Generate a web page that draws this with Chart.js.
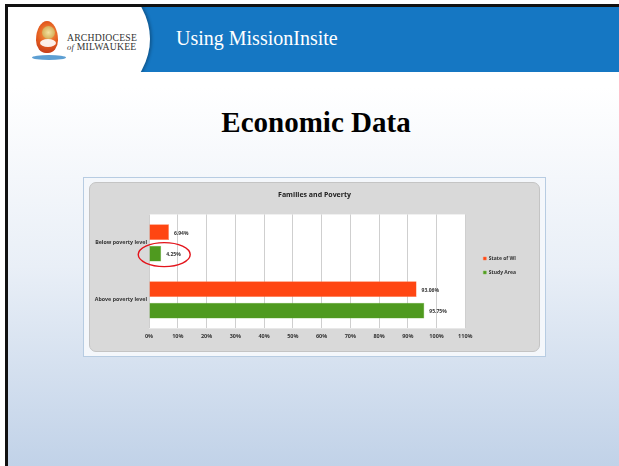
<!DOCTYPE html>
<html>
<head>
<meta charset="utf-8">
<script src="https://cdn.jsdelivr.net/npm/chart.js@4.4.1/dist/chart.umd.min.js"></script>
<style>
  html, body { margin: 0; padding: 0; }
  body { width: 619px; height: 466px; position: relative; overflow: hidden; background: #fff; }
  .frame {
    position: absolute; left: 5px; top: 4px; right: 0; bottom: 0;
    border-top: 3px solid #111; border-left: 3px solid #111;
    background: linear-gradient(to bottom, #ffffff 0px, #ffffff 80px, #e9eff7 260px, #c1d2e8 100%);
    overflow: hidden;
  }
  .header { position: absolute; left: 0; top: 0; right: 0; height: 65px; background: #1577c3; overflow: hidden; }
  .header .white {
    position: absolute; left: -66px; top: -48px; width: 208px; height: 160px;
    border-radius: 50%; background: #fff; box-shadow: 2px 0 3px rgba(0,0,0,.25);
  }
  .header .ttl {
    position: absolute; left: 168px; top: 20px; color: #fff;
    font-family: "Liberation Serif", "DejaVu Serif", serif; font-size: 20px;
  }
  .logo { position: absolute; left: 22px; top: 10px; width: 40px; height: 46px; }
  .logo .flame {
    position: absolute; left: 6px; top: 4px; width: 22px; height: 32px;
    border-radius: 50% 50% 45% 45% / 60% 60% 40% 40%;
    background: radial-gradient(circle at 55% 40%, #f6a04a 0, #e35a1e 50%, #b8321a 100%);
  }
  .logo .sun {
    position: absolute; left: 12px; top: 9px; width: 13px; height: 13px; border-radius: 50%;
    background: radial-gradient(circle, #f4e2a0 0, #c99a3c 100%);
  }
  .logo .dove { position: absolute; left: 10px; top: 22px; width: 16px; height: 8px; background: #fff; border-radius: 50%; opacity: .9; }
  .logo .wave { position: absolute; left: 2px; top: 38px; width: 34px; height: 5px; border-radius: 50%; background: #5d9fd3; }
  .logo-text {
    position: absolute; left: 59px; top: 27px; font-family: "Liberation Serif", serif;
    color: #333; line-height: 8.5px; font-size: 9.7px; letter-spacing: 0.2px;
  }
  .logo-text i { font-size: 8.5px; }
  .big-title {
    position: absolute; left: 0; right: 0; top: 99px; text-align: center;
    font-family: "Liberation Serif", "DejaVu Serif", serif; font-weight: bold; font-size: 29px; color: #000;
    padding-left: 5px;
  }
  .outer { position: absolute; left: 75px; top: 170px; width: 461px; height: 178px; border: 1px solid #b7cce2; background: #f4f7fb; }
  .panel { position: absolute; left: 81px; top: 175px; width: 449px; height: 168px; border: 1px solid #c4c4c4; border-radius: 7px; background: #d9d9d9; }
  #chart { position: absolute; left: 81px; top: 175px; }
</style>
</head>
<body>
<div class="frame">
  <div class="header">
    <div class="white"></div>
    <div class="logo"><div class="flame"></div><div class="sun"></div><div class="dove"></div><div class="wave"></div></div>
    <div class="logo-text">ARCHDIOCESE<br><i>of</i> MILWAUKEE</div>
    <div class="ttl">Using MissionInsite</div>
  </div>
  <div class="big-title">Economic Data</div>
  <div class="outer"></div>
  <div class="panel"></div>
  <canvas id="chart" width="451" height="170"></canvas>
</div>
<script>
const categories = ['Below poverty level', 'Above poverty level'];
const seriesNames = ['State of WI', 'Study Area'];
const stateOfWI = [6.94, 93.06];
const studyArea = [4.25, 95.75];
const xMin = 0, xMax = 110, xStep = 10;

const colorState = '#ff4612';
const colorStudy = '#4f9a1f';
const labelFont = { family: 'Open Sans, Liberation Sans, sans-serif', size: 5, weight: 'bold' };

// white plot area
const plotBg = {
    id: 'plotBg',
    beforeDraw(chart) {
        const { ctx, chartArea: a } = chart;
        ctx.save();
        ctx.fillStyle = '#ffffff';
        ctx.fillRect(a.left, a.top, a.right - a.left, a.bottom - a.top);
        ctx.restore();
    }
};

// widen legend box so it sits further in from the right edge
const legendWide = {
    id: 'legendWide',
    beforeInit(chart) {
        const fit = chart.legend.fit;
        chart.legend.fit = function () {
            fit.bind(chart.legend)();
            this.width += 14;
        };
    }
};

// value labels right of each bar
const valueLabels = {
    id: 'valueLabels',
    afterDatasetsDraw(chart) {
        const { ctx } = chart;
        ctx.save();
        ctx.font = 'bold 5px "Open Sans", "Liberation Sans", sans-serif';
        ctx.fillStyle = '#333';
        ctx.textBaseline = 'middle';
        chart.data.datasets.forEach((ds, i) => {
            chart.getDatasetMeta(i).data.forEach((bar, j) => {
                ctx.fillText(ds.data[j].toFixed(2) + '%', bar.x + 5, bar.y + 1);
            });
        });
        ctx.restore();
    }
};

// red circle drawn round the study area "below poverty" bar
const highlight = {
    id: 'highlight',
    afterDraw(chart) {
        const bar = chart.getDatasetMeta(1).data[0];
        if (!bar) return;
        const { ctx } = chart;
        ctx.save();
        ctx.strokeStyle = '#e3141b';
        ctx.lineWidth = 1.4;
        ctx.beginPath();
        ctx.ellipse(bar.x + 3, bar.y + 1, 26, 12, 0, 0, Math.PI * 2);
        ctx.stroke();
        ctx.restore();
    }
};

new Chart(document.getElementById('chart'), {
    type: 'bar',
    data: {
        labels: categories,
        datasets: [
            { label: seriesNames[0], data: stateOfWI, backgroundColor: colorState, borderColor: '#ff7a4f', borderWidth: 0.5 },
            { label: seriesNames[1], data: studyArea, backgroundColor: colorStudy, borderColor: '#7cbc52', borderWidth: 0.5 }
        ]
    },
    options: {
        indexAxis: 'y',
        responsive: false,
        animation: false,
        categoryPercentage: 0.75,
        barPercentage: 0.74,
        layout: { padding: { left: 0, right: 0, top: 4, bottom: 7 } },
        plugins: {
            title: {
                display: true, text: 'Families and Poverty', color: '#222',
                font: { family: 'Open Sans, Liberation Sans, sans-serif', size: 7, weight: 'bold' },
                padding: { top: 5, bottom: 15 }
            },
            legend: {
                position: 'right',
                labels: { boxWidth: 3, boxHeight: 3, padding: 9, color: '#333', font: labelFont }
            },
            tooltip: { enabled: false }
        },
        scales: {
            x: {
                min: xMin, max: xMax,
                ticks: { stepSize: xStep, callback: v => v + '%', color: '#333', font: { ...labelFont, size: 5.5 }, padding: 5 },
                grid: { color: '#cfcfcf', drawTicks: false },
                border: { display: false }
            },
            y: {
                ticks: { color: '#333', font: { ...labelFont, size: 5.3 }, padding: 2 },
                grid: { display: false, drawTicks: false },
                border: { display: false },
                afterFit(scale) { scale.width = 60; }
            },
            // empty gap between plot and legend
            gap: {
                type: 'category', axis: 'y', position: 'right', display: true,
                ticks: { display: false }, grid: { display: false, drawTicks: false }, border: { display: false },
                afterFit(scale) { scale.width = 9; }
            }
        }
    },
    plugins: [plotBg, legendWide, valueLabels, highlight]
});
</script>
</body>
</html>
